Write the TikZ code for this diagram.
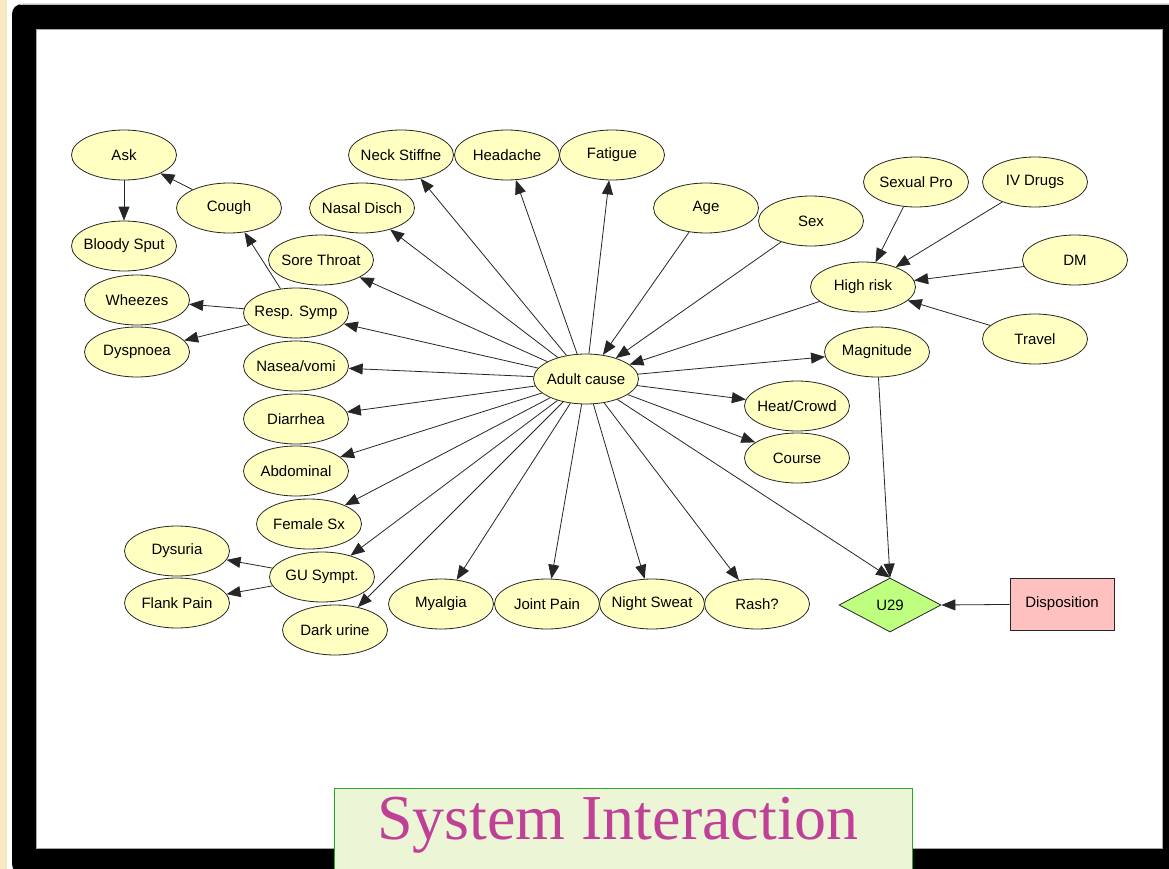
\documentclass[tikz,border=0pt]{standalone}
\usepackage{fontspec}
\setmainfont{Liberation Sans}
\newfontfamily\titlefont{Liberation Serif}
\usetikzlibrary{shapes.geometric,arrows.meta}
\definecolor{nodefill}{RGB}{255,255,194}
\definecolor{utilfill}{RGB}{190,255,128}
\definecolor{decfill}{RGB}{255,192,192}
\definecolor{titlebg}{RGB}{236,246,214}
\definecolor{titleedge}{RGB}{40,170,40}
\definecolor{titleink}{RGB}{192,64,152}
\definecolor{stripcol}{RGB}{250,233,192}
\tikzset{
  var/.style={ellipse, draw=black!85, line width=0.8pt, fill=nodefill,
    minimum width=105pt, minimum height=50pt, inner xsep=-14pt, inner ysep=0pt,
    font=\fontsize{15}{17}\selectfont},
  util/.style={diamond, draw=black!85, line width=0.8pt, fill=utilfill,
    aspect=1.9, minimum width=102pt, minimum height=54pt, inner sep=0pt,
    font=\fontsize{15}{17}\selectfont},
  decision/.style={rectangle, draw=black!85, line width=0.8pt, fill=decfill,
    minimum width=104pt, minimum height=52pt, inner sep=0pt,
    font=\fontsize{15}{17}\selectfont},
  link/.style={draw=black!85, line width=0.8pt,
    -{Triangle[length=14pt,width=11pt]}}
}
\begin{document}
\begin{tikzpicture}[x=1pt,y=-1pt]
\useasboundingbox (0,0) rectangle (1169,869);
\clip (0,0) rectangle (1169,869);
% page background, side strip and black frame
\fill[white] (0,0) rectangle (1169,869);
\fill[stripcol] (0,0) rectangle (7,869);
\fill[black, rounded corners=10pt] (12,4) rectangle (1180,874);
\draw[gray!50, line width=0.8pt] (20,4) -- (1169,4);
\filldraw[fill=white, draw=gray!70, line width=0.8pt] (36,29) rectangle (1162,848);

% network nodes
\node[var] (ask)      at (124,155) {Ask};
\node[var] (cough)    at (229,208) {Cough};
\node[var] (bloody)   at (124,246) {Bloody Sput};
\node[var] (wheezes)  at (137,300) {Wheezes};
\node[var] (dyspnoea) at (137,352) {Dyspnoea};
\node[var] (resp)     at (296,313) {Resp. Symp};
\node[var] (sore)     at (321,260) {Sore Throat};
\node[var] (nasal)    at (362,208) {Nasal Disch};
\node[var] (neck)     at (401,155) {Neck Stiffne};
\node[var] (headache) at (507,155) {Headache};
\node[var] (fatigue)  at (612,155) {Fatigue};
\node[var] (age)      at (706,208) {Age};
\node[var] (sex)      at (811,221) {Sex};
\node[var] (sexpro)   at (916,182) {Sexual Pro};
\node[var] (ivdrugs)  at (1035,182) {IV Drugs};
\node[var] (dm)       at (1075,260) {DM};
\node[var] (highrisk) at (863,287) {High risk};
\node[var] (travel)   at (1035,339) {Travel};
\node[var] (magn)     at (877,352) {Magnitude};
\node[var] (adult)    at (586,379) {Adult cause};
\node[var] (nasea)    at (296,366) {Nasea/vomi};
\node[var] (diarrhea) at (296,419) {Diarrhea};
\node[var] (abdom)    at (296,471) {Abdominal};
\node[var] (female)   at (309,524) {Female Sx};
\node[var] (heat)     at (797,406) {Heat/Crowd};
\node[var] (course)   at (797,458) {Course};
\node[var] (dysuria)  at (177,551) {Dysuria};
\node[var] (flank)    at (177,603) {Flank Pain};
\node[var] (gu)       at (322,577) {GU Sympt.};
\node[var] (dark)     at (335,630) {Dark urine};
\node[var] (myalgia)  at (441,604) {Myalgia};
\node[var] (joint)    at (547,604) {Joint Pain};
\node[var] (night)    at (652,604) {Night Sweat};
\node[var] (rash)     at (757,604) {Rash?};
\node[util] (u29)     at (890,605) {U29};
\node[decision] (disp) at (1062,604) {Disposition};

% links
\draw[link] (ask) -- (bloody);
\draw[link] (cough) -- (ask);
\draw[link] (resp) -- (cough);
\draw[link] (resp) -- (wheezes);
\draw[link] (resp) -- (dyspnoea);
\draw[link] (gu) -- (dysuria);
\draw[link] (gu) -- (flank);
\draw[link] (age) -- (adult);
\draw[link] (sex) -- (adult);
\draw[link] (highrisk) -- (adult);
\draw[link] (sexpro) -- (highrisk);
\draw[link] (ivdrugs) -- (highrisk);
\draw[link] (dm) -- (highrisk);
\draw[link] (travel) -- (highrisk);
\foreach \t in {resp,sore,nasal,neck,headache,fatigue,nasea,diarrhea,abdom,
  female,gu,dark,myalgia,joint,night,rash,magn,heat,course}
  \draw[link] (adult) -- (\t);
\draw[link] (adult) -- (u29.north);
\draw[link] (magn) -- (u29.north);
\draw[link] (disp) -- (u29.east);

% title panel
\filldraw[fill=titlebg, draw=titleedge, line width=0.8pt] (334,788) rectangle (912,880);
\node[anchor=base, text=titleink, inner sep=0pt,
  font=\titlefont\fontsize{64}{70}\selectfont] (title) at (618,839) {System Interaction};
\end{tikzpicture}
\end{document}
